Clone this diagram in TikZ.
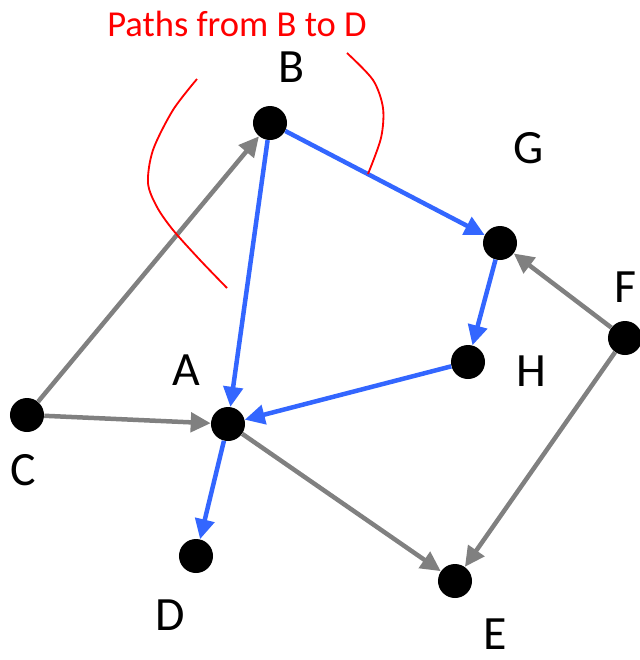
\documentclass[tikz,border=0pt]{standalone}
\usepackage{fontspec}
\setmainfont{Carlito}
\usetikzlibrary{arrows.meta}
\definecolor{pathblue}{RGB}{51,102,255}
\definecolor{edgegray}{RGB}{128,128,128}
\tikzset{
  vertex/.style={circle,fill=black,inner sep=0pt,minimum size=0.85cm},
  vlabel/.style={font=\fontsize{34}{40}\selectfont,inner sep=0pt},
  grayedge/.style={edgegray,line width=3.2pt,-{Triangle[length=0.5cm,width=0.48cm]}},
  blueedge/.style={pathblue,line width=3.2pt,-{Triangle[length=0.5cm,width=0.48cm]}},
  bracket/.style={red,line width=1.3pt}
}
\begin{document}
\begin{tikzpicture}[x=0.025cm,y=-0.025cm]
    \useasboundingbox (0,0) rectangle (640,660);
    %% vertices
    \node[vertex] (B) at (270,123) {};
    \node[vertex] (G) at (500,243) {};
    \node[vertex] (F) at (625,338) {};
    \node[vertex] (H) at (468,362) {};
    \node[vertex] (A) at (228,424) {};
    \node[vertex] (C) at (27,415) {};
    \node[vertex] (D) at (196,556) {};
    \node[vertex] (E) at (455,581) {};
    %% vertex labels
    \node[vlabel] (lB) at (292,67) {B};
    \node[vlabel] (lG) at (529,148) {G};
    \node[vlabel] (lF) at (625,287) {F};
    \node[vlabel] (lH) at (531,371) {H};
    \node[vlabel] (lA) at (186,370) {A};
    \node[vlabel] (lC) at (23,470) {C};
    \node[vlabel] (lD) at (170,615) {D};
    \node[vlabel] (lE) at (495,634) {E};
    %% title
    \node[text=red,font=\fontsize{26}{31}\selectfont] (title) at (237,24) {Paths from B to D};
    %% edges
    \draw[grayedge] (C) -- (B);
    \draw[grayedge] (C) -- (A);
    \draw[grayedge] (A) -- (E);
    \draw[grayedge] (F) -- (G);
    \draw[grayedge] (F) -- (E);
    \draw[blueedge] (B) -- (A);
    \draw[blueedge] (B) -- (G);
    \draw[blueedge] (G) -- (H);
    \draw[blueedge] (H) -- (A);
    \draw[blueedge] (A) -- (D);
    %% brackets round the paths
    \draw[bracket] plot[smooth] coordinates {(197,79) (173,110) (153,150) (148,183) (157,207) (173,230) (200,260) (227,288)};
    \draw[bracket] plot[smooth] coordinates {(347,53) (373,80) (383,108) (381,138) (368,174)};
\end{tikzpicture}
\end{document}
